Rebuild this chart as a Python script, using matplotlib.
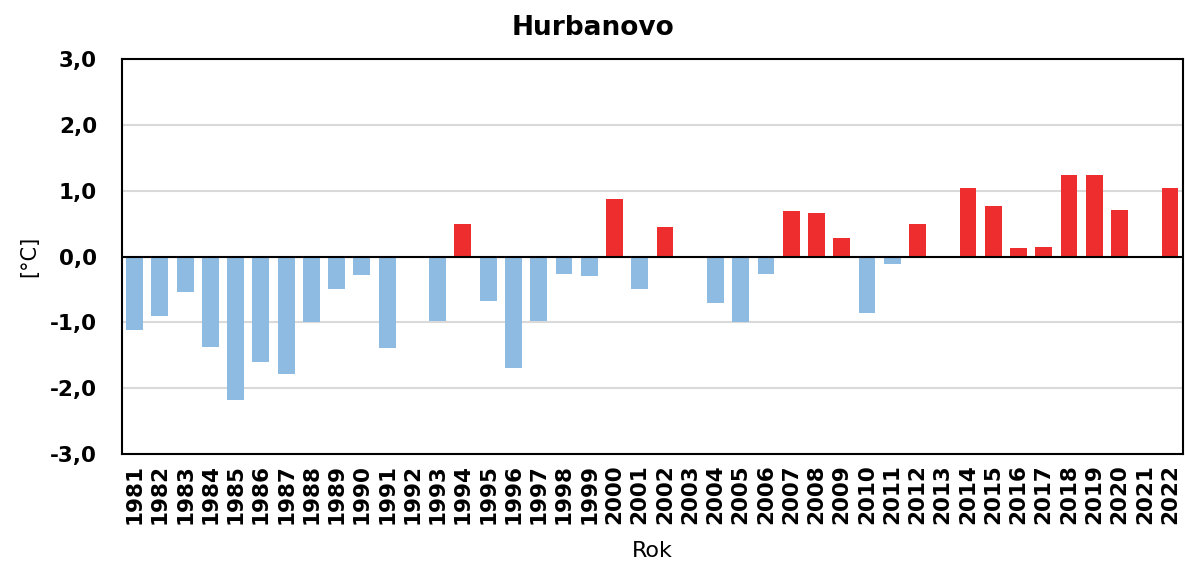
import matplotlib.pyplot as plt
from matplotlib.ticker import FuncFormatter

# Hurbanovo - annual temperature anomaly
years = list(range(1981, 2023))
anomaly = [
    -1.12, -0.90, -0.54, -1.38, -2.18, -1.60, -1.78, -1.00, -0.50, -0.28,
    -1.39, 0.00, -0.98, 0.49, -0.67, -1.69, -0.98, -0.27, -0.29, 0.87,
    -0.49, 0.45, -0.02, -0.70, -0.99, -0.27, 0.69, 0.66, 0.28, -0.85,
    -0.12, 0.50, 0.00, 1.04, 0.77, 0.13, 0.15, 1.23, 1.23, 0.71,
    -0.01, 1.04,
]

warm_color = '#EE2E2E'
cold_color = '#8EBBE2'
colors = [warm_color if v >= 0 else cold_color for v in anomaly]

plt.rcParams['font.family'] = ['DejaVu Sans']

fig = plt.figure(figsize=(11.85, 5.65), dpi=100)
ax = fig.add_axes([0.103, 0.196, 0.895, 0.70])

x = list(range(len(years)))
ax.bar(x, anomaly, width=0.67, color=colors, zorder=3)
ax.axhline(0, color='black', linewidth=1.5, zorder=4)

ax.set_xlim(-0.5, len(years) - 0.5)
ax.set_ylim(-3, 3)
ax.set_yticks([-3, -2, -1, 0, 1, 2, 3])
ax.yaxis.set_major_formatter(FuncFormatter(lambda v, p: f'{v:.1f}'.replace('.', ',')))
ax.set_xticks(x)
ax.set_xticklabels([str(y) for y in years], rotation=90, fontsize=15.5, fontweight='bold')
for lbl in ax.get_yticklabels():
    lbl.set_fontsize(15.5)
    lbl.set_fontweight('bold')

ax.tick_params(axis='x', length=0, pad=7)
ax.tick_params(axis='y', length=0, pad=18)
ax.grid(axis='y', color='#D9D9D9', linewidth=1.5, zorder=0)

for side in ['top', 'right', 'left', 'bottom']:
    ax.spines[side].set_color('black')
    ax.spines[side].set_linewidth(1.5)

fig.text(0.5, 0.95, 'Hurbanovo', ha='center', va='center', fontsize=19, fontweight='bold')
ax.set_ylabel('[°C]', fontsize=15, labelpad=8)
ax.set_xlabel('Rok', fontsize=16, labelpad=12)

fig.savefig('out.png', dpi=100)
